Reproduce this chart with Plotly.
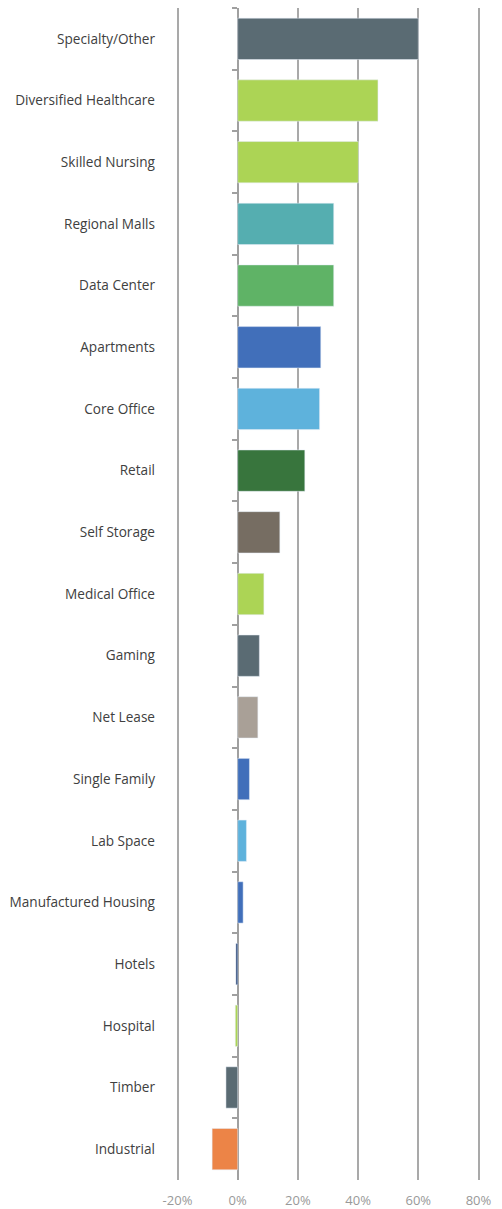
import plotly.graph_objects as go

categories = ["Specialty/Other", "Diversified Healthcare", "Skilled Nursing", "Regional Malls",
              "Data Center", "Apartments", "Core Office", "Retail", "Self Storage",
              "Medical Office", "Gaming", "Net Lease", "Single Family", "Lab Space",
              "Manufactured Housing", "Hotels", "Hospital", "Timber", "Industrial"]
values = [60.0, 46.6, 40.1, 31.9, 31.9, 27.6, 27.2, 22.3, 14.0, 8.7, 7.2, 6.7, 3.9, 2.9,
          1.8, -0.6, -0.8, -3.9, -8.5]
colors = ["#5a6b73", "#acd455", "#acd455", "#55aeb0", "#5fb366", "#416fba", "#5eb2dc",
          "#38753d", "#766d62", "#acd455", "#5a6b73", "#a9a097", "#416fba", "#5eb2dc",
          "#416fba", "#2e4a7a", "#acd455", "#5a6b73", "#ec8447"]
x_ticks = [-20, 0, 20, 40, 60, 80]
x_tick_labels = ["-20%", "0%", "20%", "40%", "60%", "80%"]

xmin, xmax = -20.5, 80.5
fnt = "Open Sans, Arial, sans-serif"

fig = go.Figure()
fig.add_trace(go.Bar(x=values, y=categories, orientation="h",
                     marker=dict(color=colors, line=dict(width=0)),
                     hoverinfo="x+y"))
# invisible trace carrying the zero-position axis (with boundary ticks)
fig.add_trace(go.Bar(x=values, y=categories, orientation="h", yaxis="y2",
                     marker=dict(color="rgba(0,0,0,0)"), hoverinfo="skip",
                     showlegend=False))

fig.update_layout(
    width=502, height=1209,
    margin=dict(l=176, r=22, t=8, b=29, autoexpand=False),
    paper_bgcolor="white", plot_bgcolor="white",
    showlegend=False, bargap=0.33, barmode="overlay",
    font=dict(family=fnt, size=13.6, color="#404040"),
    xaxis=dict(range=[xmin, xmax], tickvals=x_ticks, ticktext=x_tick_labels,
               showgrid=True, gridcolor="#a9a9a9", gridwidth=1.5,
               zeroline=False, showline=False, ticks="", automargin=False,
               tickfont=dict(size=13, color="#999999"), ticklabelstandoff=11,
               fixedrange=True),
    yaxis=dict(type="category", categoryorder="array", categoryarray=categories,
               autorange="reversed", showgrid=False, zeroline=False, showline=False,
               ticks="", ticklabelstandoff=20, automargin=False,
               tickfont=dict(size=13.6, color="#404040")),
    yaxis2=dict(type="category", matches="y", overlaying="y", anchor="free",
                position=(0 - xmin) / (xmax - xmin), side="left", layer="below traces",
                showline=True, linecolor="#a0a0a0", linewidth=1.5, automargin=False,
                ticks="outside", tickson="boundaries", ticklen=5, tickwidth=1.5,
                tickcolor="#a0a0a0", showticklabels=False, showgrid=False),
)

fig.write_html("out.html", config={"displayModeBar": False},
               post_script="document.body.style.margin='0px';")
